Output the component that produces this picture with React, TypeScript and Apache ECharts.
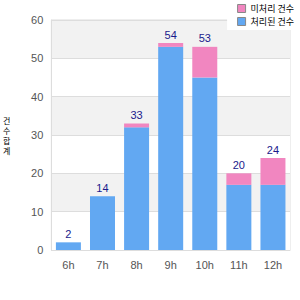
import React, { useEffect, useRef } from "react";
import * as echarts from "echarts";

const categories = ["6h", "7h", "8h", "9h", "10h", "11h", "12h"];
const blueValues = [2, 14, 32, 53, 45, 17, 17];
const pinkValues = [0, 0, 1, 1, 8, 3, 7];
const totals = [2, 14, 33, 54, 53, 20, 24];
const seriesNames = ["미처리 건수", "처리된 건수"];
const yAxisName = "건수합계";

export default function App() {
  const ref = useRef<HTMLDivElement>(null);
  useEffect(() => {
    const chart = echarts.init(ref.current!, null, { renderer: "svg" });
    chart.setOption({
      animation: false,
      grid: { left: 50, right: 10, top: 20, bottom: 50, show: true, borderColor: "#dddddd", borderWidth: 1, backgroundColor: "transparent" },
      legend: {
        right: 0,
        top: 0,
        orient: "vertical",
        backgroundColor: "#ffffff",
        padding: [4, 6, 4, 10],
        itemGap: 4,
        itemWidth: 8,
        itemHeight: 8,
        icon: "rect",
        textStyle: { fontSize: 9, color: "#000", fontFamily: "Noto Sans CJK KR" },
        data: [
          { name: seriesNames[0], itemStyle: { borderColor: "#888", borderWidth: 1 } },
          { name: seriesNames[1], itemStyle: { borderColor: "#888", borderWidth: 1 } },
        ],
      },
      xAxis: {
        type: "category",
        data: categories,
        axisLine: { lineStyle: { color: "#dddddd" } },
        axisTick: { show: false },
        axisLabel: { color: "#555", fontSize: 11, margin: 9, fontFamily: "Arial, Liberation Sans" },
      },
      yAxis: {
        type: "value",
        min: 0,
        max: 60,
        interval: 10,
        name: yAxisName.split("").join("\n"),
        nameLocation: "middle",
        nameRotate: 0,
        nameGap: 41,
        nameTextStyle: { fontSize: 8, color: "#000", lineHeight: 10, fontFamily: "Noto Sans CJK KR" },
        axisLine: { show: true, lineStyle: { color: "#dddddd" } },
        axisTick: { show: false },
        axisLabel: { color: "#555", fontSize: 11, margin: 8, fontFamily: "Arial, Liberation Sans" },
        splitLine: { lineStyle: { color: "#dddddd" } },
        splitArea: { show: true, areaStyle: { color: ["#ffffff", "#f2f2f2"] } },
      },
      series: [
        {
          name: seriesNames[1],
          type: "bar",
          stack: "total",
          data: blueValues,
          barWidth: 25,
          itemStyle: { color: "#62a8f2" },
        },
        {
          name: seriesNames[0],
          type: "bar",
          stack: "total",
          data: pinkValues,
          barWidth: 25,
          itemStyle: { color: "#f186c0" },
          label: {
            show: true,
            position: "top",
            distance: 3,
            color: "#1a1a8c",
            fontSize: 11,
            fontFamily: "Arial, Liberation Sans",
            formatter: (p: any) => String(totals[p.dataIndex]),
          },
        },
      ],
    });
    return () => chart.dispose();
  }, []);
  return <div ref={ref} style={{ width: 300, height: 300, position: "absolute", left: 0, top: 0 }} />;
}
